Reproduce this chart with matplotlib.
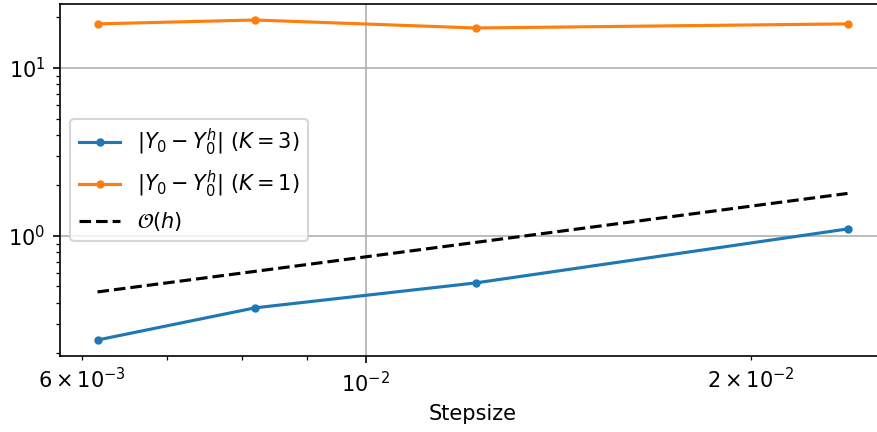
import numpy as np
import matplotlib
matplotlib.use("Agg")
import matplotlib.pyplot as plt

# step sizes
stepsize = [1 / 162, 1 / 122, 1 / 82, 1 / 42]

# errors
err_k3 = [0.240, 0.373, 0.525, 1.10]
err_k1 = [18.3, 19.3, 17.3, 18.3]
# reference slope O(h)
ref_h = [0.464, 0.615, 0.915, 1.79]

dpi = 150
fig = plt.figure(figsize=(877 / dpi, 432 / dpi), dpi=dpi)
ax = fig.add_axes([60 / 877, 76 / 432, 825 / 877, 352 / 432])

ax.loglog(stepsize, err_k3, '.-', label=r'$|Y_0-Y_0^h|\ (K=3)$')
ax.loglog(stepsize, err_k1, '.-', label=r'$|Y_0-Y_0^h|\ (K=1)$')
ax.loglog(stepsize, ref_h, 'k--', label=r'$\mathcal{O}(h)$')

ax.set_xlabel('Stepsize')
ax.grid(True)
ax.legend(loc='center left')

fig.savefig('out.png', dpi=dpi)
